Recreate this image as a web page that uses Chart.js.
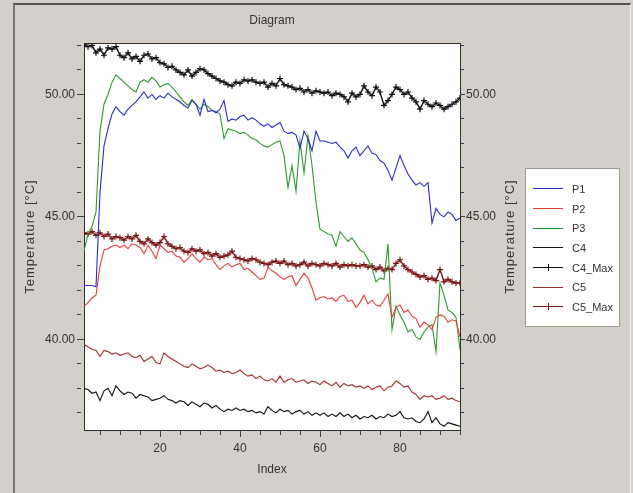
<!DOCTYPE html>
<html>
<head>
<meta charset="utf-8">
<script src="https://cdn.jsdelivr.net/npm/chart.js@4/dist/chart.umd.min.js"></script>
<style>
  body { margin: 0; background: #d4d0c8; font-family: "Liberation Sans", Arial, sans-serif; }
  #frame { position: absolute; left: 13px; top: 3px; width: 615px; height: 500px;
           border-left: 2px solid #7a7772; border-top: 2px solid #55524e; border-right: 1px solid #f4f2ee; }
  #wrap { position: absolute; left: 14px; top: 0; width: 516px; height: 493px; }
  #legend { position: absolute; left: 525px; top: 168px; width: 95px; height: 159px; box-sizing: border-box;
            background: #fff; border: 1px solid #a09c96; padding-top: 10px; }
  #legend .item { display: flex; align-items: center; height: 19.7px; padding-left: 7px;
                  font-size: 11px; color: #333; }
  #legend canvas { margin-right: 9px; }
</style>
</head>
<body>
<div id="frame"></div>
<div id="wrap"><canvas id="chart" width="516" height="493"></canvas></div>
<div id="legend"></div>
<script>
const index = [
  1, 2, 3, 4, 5, 6, 7, 8, 9, 10, 11, 12, 13, 14, 15, 16, 17, 18, 19, 20,
  21, 22, 23, 24, 25, 26, 27, 28, 29, 30, 31, 32, 33, 34, 35, 36, 37, 38, 39, 40,
  41, 42, 43, 44, 45, 46, 47, 48, 49, 50, 51, 52, 53, 54, 55, 56, 57, 58, 59, 60,
  61, 62, 63, 64, 65, 66, 67, 68, 69, 70, 71, 72, 73, 74, 75, 76, 77, 78, 79, 80,
  81, 82, 83, 84, 85, 86, 87, 88, 89, 90, 91, 92, 93, 94, 95
];

const p1 = [
  42.2, 42.2, 42.2, 42.15, 46.0, 47.9, 48.6, 49.2, 49.5, 49.3,
  49.15, 49.4, 49.55, 49.7, 49.9, 50.1, 49.85, 50.0, 49.8, 49.95,
  49.85, 50.05, 49.9, 49.8, 49.7, 49.55, 49.45, 49.75, 49.6, 49.15,
  49.8, 49.3, 49.35, 49.25, 49.4, 49.75, 48.9, 49.0, 48.95, 49.1,
  49.15, 48.95, 49.05, 48.95, 48.8, 48.7, 48.8, 48.65, 48.75, 48.85,
  48.5, 48.4, 48.45, 48.35, 47.8, 48.5, 48.2, 47.7, 48.5, 48.1,
  48.1, 48.05, 48.0, 48.05, 47.85, 47.7, 47.4, 47.7, 47.85, 47.5,
  47.7, 47.9, 47.6, 47.55, 47.3, 47.2, 46.9, 46.5, 47.0, 47.5,
  47.1, 46.75, 46.5, 46.3, 46.4, 46.25, 46.4, 44.75, 45.35, 45.1,
  45.0, 45.2, 45.1, 44.85, 44.95
];
const p2 = [
  41.35, 41.5, 41.7, 41.8, 43.0, 43.65, 43.7, 43.8, 43.85, 43.75,
  43.85, 43.7, 43.9, 43.85, 43.75, 43.5, 43.85, 43.6, 43.3, 43.85,
  43.7, 43.55, 43.6, 43.4, 43.35, 43.15, 43.3, 43.5, 43.3, 43.15,
  43.35, 43.25, 43.3, 43.05, 42.85, 43.0, 43.1, 42.95, 43.05, 43.1,
  42.85, 42.9, 42.75, 42.6, 42.45, 42.5, 42.95, 42.8, 42.7, 42.55,
  42.45, 42.55, 42.6, 42.2, 42.45, 42.7, 42.5, 42.1, 41.6, 41.7,
  41.75, 41.65, 41.7, 41.55, 41.75, 41.8, 41.55, 41.6, 41.3, 41.5,
  41.8, 41.45, 41.6, 41.4, 41.35, 41.6, 41.85, 40.9, 41.3, 41.4,
  41.1, 41.2, 40.95, 40.85, 40.5, 40.7, 40.6, 40.4, 40.9, 41.0,
  40.95, 40.7, 40.8, 40.75, 40.1
];
const p3 = [
  43.6, 44.3, 44.6, 45.2, 48.5, 49.6, 50.0, 50.5, 50.8, 50.65,
  50.5, 50.35, 50.2, 50.1, 50.5, 50.6, 50.5, 50.7, 50.55, 50.3,
  50.4, 50.45, 50.3, 50.1, 49.9, 49.7, 49.55, 49.8, 49.6, 49.4,
  49.6, 49.5, 49.35, 49.3, 49.2, 48.2, 48.6, 48.55, 48.5, 48.4,
  48.45, 48.35, 48.2, 48.15, 48.0, 47.9, 47.85, 47.95, 48.05, 48.1,
  47.5, 46.2, 47.1, 46.05, 48.1, 46.8, 48.3, 47.1, 45.6, 44.5,
  44.4, 44.3, 44.25, 43.8, 44.4, 44.2, 44.0, 44.15, 43.9, 43.65,
  43.55, 43.25, 42.9, 42.35, 42.5, 42.45, 43.9, 40.4, 41.35, 41.0,
  40.7, 40.3, 40.4, 40.1, 40.0, 40.3, 40.5, 40.6, 39.5, 42.3,
  41.8, 41.2, 41.1, 40.9, 39.6
];
const c4 = [
  38.0, 37.95, 37.8, 37.85, 37.5, 37.9, 38.0, 37.7, 38.1, 37.9,
  37.75, 37.85, 37.8, 37.6, 37.75, 37.7, 37.65, 37.5, 37.55, 37.6,
  37.7, 37.55, 37.5, 37.4, 37.5, 37.45, 37.3, 37.45, 37.35, 37.25,
  37.4, 37.35, 37.2, 37.3, 37.15, 37.05, 37.15, 37.1, 37.2, 37.1,
  37.15, 37.05, 37.1, 37.0, 37.05, 36.95, 37.25, 37.1, 37.0, 37.15,
  37.05, 37.1, 36.95, 37.05, 37.1, 36.95, 37.05, 36.9, 37.0, 36.9,
  37.0, 36.85, 36.95, 36.85, 37.0, 36.85, 36.95, 36.8, 36.9, 36.75,
  36.85, 36.8, 36.9, 36.75, 36.85, 36.8, 36.95, 36.85, 36.9, 37.05,
  36.8, 36.75, 36.8, 36.65, 36.6, 36.75, 37.05, 36.6, 36.8, 36.55,
  36.45, 36.6, 36.55, 36.5, 36.45
];
const c4Max = [
  52.05, 51.95, 52.0, 51.7, 51.85, 51.6, 51.9, 51.85, 51.95, 51.6,
  51.5, 51.7, 51.45, 51.55, 51.35, 51.6, 51.65, 51.45, 51.5, 51.3,
  51.25, 51.1, 51.15, 51.0, 50.9, 50.8, 51.0, 50.75, 50.9, 51.05,
  51.0, 50.85, 50.75, 50.65, 50.55, 50.5, 50.4, 50.35, 50.5, 50.45,
  50.6, 50.55, 50.6, 50.5, 50.45, 50.5, 50.3, 50.45, 50.35, 50.65,
  50.4, 50.35, 50.3, 50.2, 50.25, 50.1, 50.2, 50.05, 50.15, 50.1,
  50.05, 50.1, 49.95, 50.05, 50.0, 49.9, 49.7, 50.05, 49.9, 50.0,
  50.35, 50.1, 49.95, 50.3, 50.1, 49.55, 49.75, 50.0, 50.3, 50.2,
  50.0, 50.1, 49.85, 49.7, 49.4, 49.75, 49.6, 49.5, 49.65, 49.55,
  49.4, 49.5, 49.6, 49.7, 49.85
];
const c5 = [
  39.8, 39.7, 39.6, 39.55, 39.3, 39.55, 39.5, 39.4, 39.45, 39.35,
  39.4, 39.45, 39.3, 39.25, 39.35, 39.1, 39.2, 39.3, 39.05, 39.0,
  39.45, 39.3, 39.2, 39.1, 39.0, 38.9, 38.85, 39.0, 38.9, 38.8,
  38.85, 38.95, 38.85, 38.7, 38.75, 38.65, 38.7, 38.6, 38.65, 38.75,
  38.6, 38.5, 38.55, 38.4, 38.5, 38.35, 38.3, 38.4, 38.25, 38.5,
  38.25, 38.35, 38.4, 38.25, 38.3, 38.35, 38.2, 38.3, 38.25, 38.15,
  38.3, 38.2, 38.1, 38.25, 38.05, 38.2, 38.1, 38.15, 38.05, 38.1,
  38.0, 38.1, 37.95, 38.05, 38.1, 37.9, 38.05, 38.1, 38.3, 38.2,
  38.05, 38.1, 37.85, 37.75, 37.55, 37.7, 37.65, 37.7, 37.55, 37.6,
  37.7, 37.55, 37.6, 37.5, 37.45
];
const c5Max = [
  44.35, 44.3, 44.4, 44.25, 44.35, 44.2, 44.3, 44.1, 44.2, 44.15,
  44.05, 44.2, 44.1, 44.25, 44.0, 43.9, 44.1, 43.95, 43.85, 43.95,
  44.2, 43.9, 43.8, 43.7, 43.75, 43.6, 43.55, 43.7, 43.6, 43.65,
  43.5, 43.55, 43.4, 43.5, 43.35, 43.4, 43.45, 43.6, 43.35, 43.3,
  43.25, 43.2, 43.3, 43.25, 43.15, 43.1, 43.05, 43.15, 43.2, 43.1,
  43.2, 43.05, 43.1, 43.0, 43.05, 43.15, 43.0, 43.1, 43.05, 43.0,
  43.1, 43.05, 43.0, 43.1, 42.95, 43.05, 43.0, 43.05, 43.0, 43.0,
  43.05, 42.95, 43.0, 42.85, 42.95, 42.8, 42.9, 42.85, 43.1, 43.25,
  43.0, 42.85, 42.75, 42.65, 42.55, 42.6, 42.45, 42.5, 42.4, 42.85,
  42.35, 42.45, 42.35, 42.3, 42.3
];

const yLabels = [40, 45, 50];
const xLabels = [20, 40, 60, 80];
const yTitle = 'Temperature [°C]';
const font = '"Liberation Sans", Arial, sans-serif';

function series(label, values, color, marker) {
  return {
    label: label,
    data: values.map((v, i) => ({ x: index[i], y: v })),
    borderColor: color,
    backgroundColor: color,
    borderWidth: marker ? 1.4 : 1.1,
    pointStyle: marker ? 'cross' : 'circle',
    pointRadius: marker ? 3 : 0,
    pointBorderWidth: 1.2,
    tension: 0
  };
}

// white plot area, top edge line and the two rotated axis titles
const plotFrame = {
  id: 'plotFrame',
  beforeDraw(chart) {
    const { ctx, chartArea: a } = chart;
    ctx.save();
    ctx.fillStyle = '#ffffff';
    ctx.fillRect(a.left, a.top, a.right - a.left, a.bottom - a.top);
    ctx.restore();
  },
  afterDraw(chart) {
    const { ctx, chartArea: a } = chart;
    ctx.save();
    ctx.strokeStyle = '#303030';
    ctx.lineWidth = 1;
    ctx.beginPath();
    ctx.moveTo(a.left, a.top + 0.5);
    ctx.lineTo(a.right, a.top + 0.5);
    ctx.stroke();
    ctx.font = '13px ' + font;
    ctx.fillStyle = '#333';
    ctx.letterSpacing = '1px';
    ctx.textAlign = 'center';
    ctx.textBaseline = 'middle';
    const cy = (a.top + a.bottom) / 2;
    [16, 496].forEach(x => {
      ctx.save();
      ctx.translate(x, cy);
      ctx.rotate(-Math.PI / 2);
      ctx.fillText(yTitle, 0, 0);
      ctx.restore();
    });
    ctx.restore();
  }
};

const tickFont = { family: font, size: 12 };

const chart = new Chart(document.getElementById('chart'), {
  type: 'line',
  data: {
    datasets: [
      series('P1', p1, '#2b2bd0', false),
      series('P2', p2, '#e63c38', false),
      series('P3', p3, '#2c9a2c', false),
      series('C4', c4, '#111111', false),
      series('C4_Max', c4Max, '#111111', true),
      series('C5', c5, '#a42a2a', false),
      series('C5_Max', c5Max, '#7c1414', true)
    ]
  },
  options: {
    responsive: false,
    animation: false,
    devicePixelRatio: 1,
    plugins: {
      legend: { display: false },
      tooltip: { enabled: false },
      title: {
        display: true,
        text: 'Diagram',
        color: '#333',
        font: { family: font, size: 12, weight: 'normal' },
        padding: { top: 13, bottom: 15.6 }
      }
    },
    scales: {
      x: {
        type: 'linear',
        min: 1,
        max: 95,
        border: { display: true, color: '#303030' },
        grid: {
          drawOnChartArea: false,
          tickLength: 7,
          tickColor: '#404040',
          tickBorderDash: c => (xLabels.includes(c.tick.value) ? [] : [4, 20])
        },
        ticks: {
          stepSize: 5,
          autoSkip: false,
          includeBounds: false,
          maxRotation: 0,
          padding: 4,
          color: '#333',
          font: tickFont,
          callback: v => (xLabels.includes(v) ? String(v) : '')
        },
        title: {
          display: true,
          text: 'Index',
          color: '#333',
          font: tickFont,
          padding: { top: 0, bottom: 15.8 }
        },
        afterFit: s => { s.height = 63; s.paddingLeft = 0; s.paddingRight = 0; }
      },
      y: {
        position: 'left',
        min: 36.3,
        max: 52.1,
        border: { display: true, color: '#303030' },
        grid: {
          drawOnChartArea: false,
          tickLength: 7,
          tickColor: '#404040',
          tickBorderDash: c => (yLabels.includes(c.tick.value) ? [] : [4, 20])
        },
        ticks: {
          stepSize: 1,
          autoSkip: false,
          includeBounds: false,
          padding: 2,
          color: '#333',
          font: tickFont,
          callback: v => (yLabels.includes(v) ? v.toFixed(2) : '')
        },
        afterFit: s => { s.width = 70; s.paddingTop = 0; s.paddingBottom = 0; }
      },
      y2: {
        position: 'right',
        min: 36.3,
        max: 52.1,
        border: { display: true, color: '#303030' },
        grid: {
          drawOnChartArea: false,
          tickLength: 5,
          tickColor: '#404040',
          tickBorderDash: c => (yLabels.includes(c.tick.value) ? [] : [3, 20])
        },
        ticks: {
          stepSize: 1,
          autoSkip: false,
          includeBounds: false,
          padding: 1,
          color: '#333',
          font: tickFont,
          callback: v => (yLabels.includes(v) ? v.toFixed(2) : '')
        },
        afterFit: s => { s.width = 70; s.paddingTop = 0; s.paddingBottom = 0; }
      }
    }
  },
  plugins: [plotFrame]
});

// Legend box built from the datasets
const legendBox = document.getElementById('legend');
chart.data.datasets.forEach(ds => {
  const row = document.createElement('div');
  row.className = 'item';
  const swatch = document.createElement('canvas');
  swatch.width = 30;
  swatch.height = 9;
  const c = swatch.getContext('2d');
  c.strokeStyle = ds.borderColor;
  c.lineWidth = 1;
  c.beginPath();
  c.moveTo(0, 4.5);
  c.lineTo(30, 4.5);
  if (ds.pointStyle === 'cross') {
    c.moveTo(15.5, 1);
    c.lineTo(15.5, 8);
  }
  c.stroke();
  const label = document.createElement('span');
  label.textContent = ds.label;
  row.append(swatch, label);
  legendBox.append(row);
});
</script>
</body>
</html>
